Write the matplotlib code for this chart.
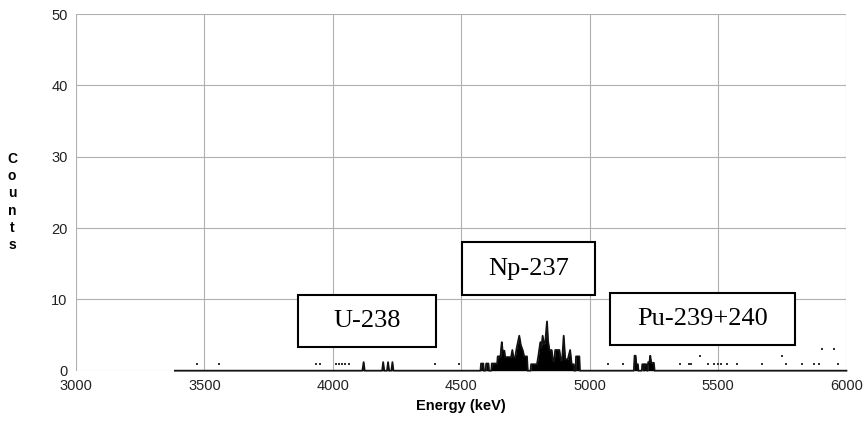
import matplotlib
matplotlib.use("Agg")
import matplotlib.pyplot as plt
from matplotlib.patches import Rectangle

# ---- data ----
# dense spectrum profile (energy keV, counts); zeros mark the baseline
spec_energy = [3385,
               4115, 4120, 4124,
               4192, 4196, 4200, 4211, 4215, 4219, 4228, 4232, 4236,
               4575, 4577, 4586, 4588, 4595, 4597, 4606, 4608,
               4617, 4619, 4640, 4642, 4650, 4653, 4655, 4658, 4661, 4668, 4671,
               4694, 4699, 4703, 4710, 4716, 4726, 4732, 4740, 4745, 4756, 4759,
               4770, 4772, 4795, 4800, 4808, 4812, 4817, 4822, 4827, 4834, 4838,
               4843, 4848, 4852, 4857, 4862, 4866, 4882, 4888, 4893, 4899, 4905,
               4915, 4924, 4930, 4938, 4940, 4945, 4947, 4960, 4962,
               5172, 5175, 5179, 5182, 5188, 5190,
               5203, 5205, 5210, 5212, 5214, 5221, 5224,
               5226, 5228, 5233, 5236, 5240, 5250, 5253,
               6000]
spec_counts = [0,
               0, 1.2, 0,
               0, 1.2, 0, 0, 1.2, 0, 0, 1.2, 0,
               0, 1, 1, 0, 0, 1, 1, 0,
               0, 1, 1, 2, 2, 1.9, 3, 4.0, 2.8, 2.8, 1.9,
               1.9, 2.9, 1.9, 1.9, 3.2, 4.9, 3.6, 2.8, 2.0, 2.0, 0,
               0, 0.9, 0.9, 2.0, 4.0, 3.2, 4.9, 3.7, 4.0, 6.9, 4.2,
               3.0, 2.8, 2.9, 1.4, 1.4, 2.9, 2.9, 1.4, 1.6, 4.9, 1.6,
               1.6, 2.9, 0.9, 0.9, 0, 0, 2.0, 2.0, 0,
               0, 2.1, 2.1, 0.9, 0.9, 0,
               0, 0.9, 0.9, 0, 0.9, 0.9, 0,
               0, 1.2, 1.2, 2.1, 1.1, 1.1, 0,
               0]

# isolated single-channel counts
dot_energy = [3470, 3558, 3933, 3949, 4014, 4025, 4034, 4047, 4064, 4397, 4491,
              5071, 5130, 5353, 5388, 5396, 5428, 5461, 5486, 5499, 5512, 5534,
              5573, 5672, 5750, 5765, 5827, 5875, 5895, 5905, 5953, 5966]
dot_counts = [1, 1, 1, 1, 1, 1, 1, 1, 1, 1, 1,
              1, 1, 1, 1, 1, 2, 1, 1, 1, 1, 1,
              1, 1, 2, 1, 1, 1, 1, 3, 3, 1]

x_ticks = [3000, 3500, 4000, 4500, 5000, 5500, 6000]
y_ticks = [0, 10, 20, 30, 40, 50]

# nuclide labels: (text, E_left, E_right, y_bottom, y_top)
nuclide_labels = ["U-238", "Np-237", "Pu-239+240"]
label_boxes = [(3865, 4401, 3.3, 10.6),
               (4501, 5022, 10.6, 18.0),
               (5078, 5798, 3.6, 10.95)]

# ---- figure ----
fig = plt.figure(figsize=(8.67, 4.21), dpi=100)
ax = fig.add_axes([0.0877, 0.1195, 0.8886, 0.8472])

ax.set_xlim(x_ticks[0], x_ticks[-1])
ax.set_ylim(y_ticks[0], y_ticks[-1])
ax.set_xticks(x_ticks)
ax.set_yticks(y_ticks)
for s in ax.spines.values():
    s.set_visible(False)
ax.grid(True, color="#b0b0b0", lw=0.8)
ax.set_axisbelow(True)
ax.tick_params(length=0, labelsize=10.5, colors="#222222")
ax.tick_params(axis="x", pad=6)
ax.tick_params(axis="y", pad=6)
for lab in ax.get_xticklabels() + ax.get_yticklabels():
    lab.set_fontfamily("Liberation Sans")

ax.fill_between(spec_energy, spec_counts, 0, color="black", lw=0, zorder=3)
ax.plot(spec_energy, spec_counts, color="#111111", lw=1.3, zorder=4, clip_on=False)
ax.plot(dot_energy, dot_counts, ls="none", marker="s", ms=1.6, color="#333333",
        mew=0, zorder=4)

for text, (e0, e1, y0, y1) in zip(nuclide_labels, label_boxes):
    ax.add_patch(Rectangle((e0, y0), e1 - e0, y1 - y0, fill=True, facecolor="white",
                           edgecolor="black", lw=1.5, zorder=5))
    ax.text((e0 + e1) / 2, (y0 + y1) / 2, text, ha="center", va="center",
            family="Liberation Serif", fontsize=19, zorder=6)

ax.set_xlabel("Energy (keV)", fontsize=10.5, fontweight="bold",
              family="Liberation Sans", labelpad=4)
fig.text(0.014, 0.52, "C\no\nu\nn\nt\ns", ha="center", va="center",
         fontsize=10, fontweight="bold", family="Liberation Sans", linespacing=1.3)

fig.savefig("out.png", dpi=100, facecolor="white")
